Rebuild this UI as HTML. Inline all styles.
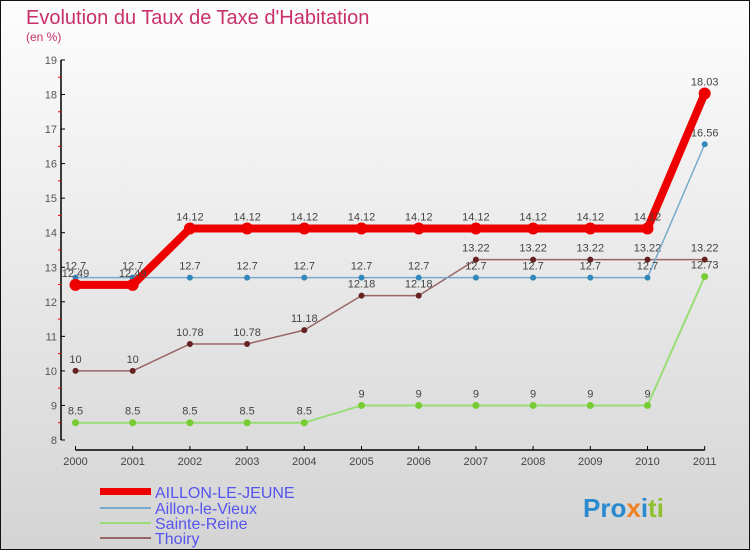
<!DOCTYPE html>
<html><head><meta charset="utf-8"><style>
body{margin:0;width:750px;height:550px;overflow:hidden;font-family:"Liberation Sans",sans-serif}
</style></head><body>
<svg width="750" height="550" style="display:block">
<defs><linearGradient id="bg" x1="0" y1="0" x2="0" y2="1"><stop offset="0" stop-color="#fdfdfd"/><stop offset="1" stop-color="#d4d4d4"/></linearGradient></defs>
<rect x="0.5" y="0.5" width="749" height="549" fill="url(#bg)" stroke="#111"/>
<text x="26" y="24" font-size="20" fill="#c8306a">Evolution du Taux de Taxe d'Habitation</text>
<text x="26" y="41" font-size="12" fill="#c8306a">(en %)</text>
<g id="axes"></g><g id="series"></g>
<g font-size="16" fill="#5555ee">
<rect x="100" y="488" width="51" height="7" fill="#e00"/>
<text x="155" y="498">AILLON-LE-JEUNE</text>
<rect x="100" y="507" width="51" height="2" fill="#77aacc"/>
<text x="155" y="514">Aillon-le-Vieux</text>
<rect x="100" y="522" width="51" height="2" fill="#99dd77"/>
<text x="155" y="529">Sainte-Reine</text>
<rect x="100" y="537" width="51" height="2" fill="#996666"/>
<text x="155" y="544">Thoiry</text>
</g>
<text x="583" y="517" font-size="26" font-weight="bold"><tspan fill="#2a8ad0">Pro</tspan><tspan fill="#f08020">x</tspan><tspan fill="#2a8ad0">i</tspan><tspan fill="#90c030">ti</tspan></text>
</svg>
<script>
const years=[2000,2001,2002,2003,2004,2005,2006,2007,2008,2009,2010,2011];
const yTicks=[8,9,10,11,12,13,14,15,16,17,18,19];
const jeune=[12.49,12.49,14.12,14.12,14.12,14.12,14.12,14.12,14.12,14.12,14.12,18.03];
const vieux=[12.7,12.7,12.7,12.7,12.7,12.7,12.7,12.7,12.7,12.7,12.7,16.56];
const reine=[8.5,8.5,8.5,8.5,8.5,9,9,9,9,9,9,12.73];
const thoiry=[10,10,10.78,10.78,11.18,12.18,12.18,13.22,13.22,13.22,13.22,13.22];
const NS="http://www.w3.org/2000/svg";
const X=i=>75.5+i*57.2, Y=v=>440-(v-8)*34.55;
function mk(t,a,p){const e=document.createElementNS(NS,t);for(const k in a)e.setAttribute(k,a[k]);p.appendChild(e);return e;}
const ax=document.getElementById('axes');
let l=mk('line',{x1:61,y1:Y(19),x2:61,y2:440,stroke:'#000','stroke-width':1.5},ax);


l=mk('line',{x1:X(0),y1:450,x2:X(11),y2:450,stroke:'#000','stroke-width':1.5},ax);


yTicks.forEach(v=>{
  mk('line',{x1:61,y1:Y(v),x2:65,y2:Y(v),stroke:'#000'},ax);
  if(v<19)mk('line',{x1:58,y1:Y(v+0.5),x2:61,y2:Y(v+0.5),stroke:'#e00'},ax);
  const t=mk('text',{x:57,y:Y(v)+4,'text-anchor':'end','font-size':11,fill:'#555'},ax);t.textContent=v;
  
  
});
years.forEach((y,i)=>{
  mk('line',{x1:X(i),y1:446,x2:X(i),y2:450,stroke:'#000'},ax);
  const t=mk('text',{x:X(i),y:465,'text-anchor':'middle','font-size':11,fill:'#444'},ax);t.textContent=y;
  
  
});
const sg=document.getElementById('series');
function series(d,name,col,w,r,dot){
  const g=mk('g',{},sg);
  
  
  mk('polyline',{points:d.map((v,i)=>X(i)+','+Y(v)).join(' '),fill:'none',stroke:col,'stroke-width':w,'stroke-linejoin':'round'},g);
  d.forEach((v,i)=>{
    const c=mk('circle',{cx:X(i),cy:Y(v),r:r,fill:dot},g);
    
    
    const t=mk('text',{x:X(i),y:Y(v)-8,'text-anchor':'middle','font-size':11,fill:'#444'},g);t.textContent=v;
    
    
  });
}
series(reine,'sainte-reine','#99dd77',2,3.5,'#77cc33');
series(thoiry,'thoiry','#996666',1.5,3,'#662222');
series(vieux,'aillon-le-vieux','#77aacc',1.5,3,'#3388bb');
series(jeune,'aillon-le-jeune','#ee0000',8,6,'#ee0000');
</script>
</body></html>
